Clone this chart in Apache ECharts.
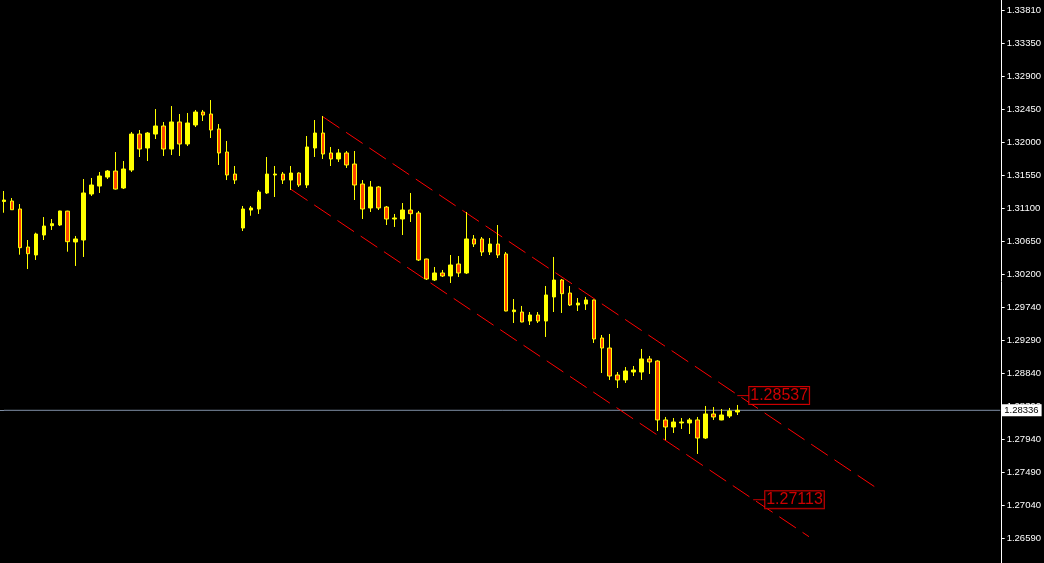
<!DOCTYPE html>
<html>
<head>
<meta charset="utf-8">
<style>
html,body{margin:0;padding:0;background:#000;}
#chart{width:1044px;height:563px;}
</style>
<script src="https://cdn.jsdelivr.net/npm/echarts@6/dist/echarts.min.js"></script>
</head>
<body>
<div id="chart"></div>
<script>
// ---- data ----
const opens = [1.31191,1.31198,1.31089,1.30569,1.30460,1.30733,1.30861,1.30870,1.31060,1.30638,
1.30665,1.31294,1.31403,1.31526,1.31608,1.31376,1.31622,1.32114,1.31923,1.32114,
1.32224,1.31909,1.32279,1.31978,1.32238,1.32415,1.32388,1.32183,1.31868,1.31567,
1.30829,1.31075,1.31089,1.31308,1.31554,1.31567,1.31485,1.31581,1.31417,1.31923,
1.32128,1.31855,1.31773,1.31855,1.31704,1.31431,1.31103,1.31390,1.31116,1.30952,
1.30952,1.31075,1.31034,1.30405,1.30118,1.30214,1.30173,1.30337,1.30214,1.30679,
1.30679,1.30501,1.30610,1.30474,1.29685,1.29680,1.29557,1.29639,1.29557,1.29886,
1.30118,1.29940,1.29776,1.29790,1.29845,1.29325,1.29188,1.28819,1.28751,1.28860,
1.28860,1.29038,1.29010,1.28204,1.28108,1.28163,1.28163,1.28204,1.27957,1.28286,
1.28204,1.28258,1.28313];
const closes = [1.31212,1.31079,1.30560,1.30478,1.30747,1.30856,1.30888,1.31062,1.30642,1.30679,
1.31308,1.31417,1.31540,1.31608,1.31362,1.31636,1.32114,1.31909,1.32128,1.32224,
1.31909,1.32279,1.31978,1.32265,1.32415,1.32374,1.32169,1.31855,1.31554,1.31485,
1.31089,1.31103,1.31321,1.31567,1.31567,1.31485,1.31581,1.31417,1.31937,1.32128,
1.31841,1.31773,1.31855,1.31691,1.31417,1.31089,1.31390,1.31103,1.30952,1.30966,
1.31075,1.31025,1.30392,1.30132,1.30214,1.30173,1.30323,1.30214,1.30679,1.30610,
1.30501,1.30610,1.30460,1.29694,1.29708,1.29544,1.29639,1.29557,1.29913,1.30118,
1.29931,1.29776,1.29803,1.29845,1.29311,1.29188,1.28805,1.28751,1.28874,1.28887,
1.29038,1.28997,1.28204,1.28108,1.28176,1.28176,1.28204,1.27957,1.28286,1.28245,
1.28272,1.28327,1.28336];
const lows = [1.31038,1.31076,1.30464,1.30268,1.30392,1.30665,1.30802,1.30856,1.30505,1.30310,
1.30433,1.31267,1.31308,1.31499,1.31355,1.31362,1.31595,1.31800,1.31745,1.32046,
1.31814,1.31827,1.31814,1.31950,1.32210,1.32292,1.32060,1.31691,1.31485,1.31431,
1.30788,1.30997,1.31021,1.31294,1.31253,1.31431,1.31349,1.31390,1.31376,1.31800,
1.31773,1.31677,1.31732,1.31650,1.31212,1.30952,1.31048,1.31075,1.30870,1.30843,
1.30733,1.30911,1.30378,1.30118,1.30104,1.30159,1.30077,1.30159,1.30200,1.30569,
1.30446,1.30460,1.30419,1.29690,1.29530,1.29540,1.29503,1.29530,1.29339,1.29680,
1.29667,1.29762,1.29694,1.29708,1.29257,1.28846,1.28751,1.28641,1.28710,1.28805,
1.28751,1.28833,1.28053,1.27930,1.28026,1.28081,1.28012,1.27739,1.27944,1.28204,
1.28200,1.28231,1.28272];
const highs = [1.31335,1.31239,1.31157,1.30665,1.30765,1.30979,1.30952,1.31065,1.31065,1.30720,
1.31499,1.31513,1.31595,1.31622,1.31868,1.31745,1.32142,1.32169,1.32142,1.32456,
1.32279,1.32497,1.32388,1.32402,1.32443,1.32443,1.32579,1.32251,1.32019,1.31677,
1.31130,1.31130,1.31349,1.31800,1.31677,1.31595,1.31677,1.31590,1.32087,1.32306,
1.32361,1.31937,1.31909,1.31882,1.31882,1.31485,1.31472,1.31403,1.31130,1.31021,
1.31171,1.31308,1.31062,1.30410,1.30296,1.30255,1.30460,1.30446,1.31048,1.30733,
1.30706,1.30692,1.30870,1.30501,1.29858,1.29763,1.29680,1.29680,1.30036,1.30433,
1.30132,1.30036,1.29872,1.29886,1.29850,1.29366,1.29380,1.28860,1.28928,1.28942,
1.29175,1.29079,1.29020,1.28245,1.28231,1.28231,1.28231,1.28245,1.28395,1.28381,
1.28354,1.28368,1.28409];

const slotCount = 126; // bars incl. empty future space
const categories = Array.from({length: slotCount}, (_, i) => String(i));

const tickLabels = ['1.33810','1.33350','1.32900','1.32450','1.32000','1.31550','1.31100','1.30650',
'1.30200','1.29740','1.29290','1.28840','1.28390','1.27940','1.27490','1.27040','1.26590'];
const tickValues = tickLabels.map(Number);

const currentPrice = 1.28336;
const currentPriceSpan = [0, 125];
const upperChannel = [[40, 1.32351], [110, 1.27235]];
const lowerChannel = [[36, 1.31358], [101, 1.26608]];
const channelTags = [[92, 1.28537], [94, 1.27113]];

const yMin = 1.26248, yMax = 1.33947;

// ---- chart ----
const candleData = opens.map((o, i) => [o, closes[i], lows[i], highs[i]]);
const chart = echarts.init(document.getElementById('chart'), null, {renderer: 'canvas'});
const FONT = '"Liberation Sans", Arial, sans-serif';

chart.setOption({
  backgroundColor: '#000000',
  animation: false,
  grid: {left: -2.7, width: 8 * slotCount, top: 0, bottom: 0},
  xAxis: {
    type: 'category', data: categories, boundaryGap: true,
    axisLine: {show: false}, axisTick: {show: false}, axisLabel: {show: false}, splitLine: {show: false}
  },
  yAxis: {
    type: 'value', position: 'right', min: yMin, max: yMax, offset: -2.6,
    axisLine: {show: true, lineStyle: {color: '#ffffff', width: 1}},
    axisTick: {show: true, inside: false, length: 3, customValues: tickValues, lineStyle: {color: '#ffffff'}},
    axisLabel: {show: true, customValues: tickValues, margin: 5, color: '#ffffff', fontSize: 9.5, fontFamily: FONT,
      formatter: v => v.toFixed(5)},
    splitLine: {show: false}
  },
  series: [
    {
      type: 'line',
      data: currentPriceSpan.map(i => [i, currentPrice]),
      symbol: 'none', silent: true,
      lineStyle: {color: '#7f8fa6', width: 1},
      endLabel: {show: true, distance: 1, color: '#000', backgroundColor: '#ffffff', padding: [1, 3, 1, 3],
        fontSize: 9.5, fontFamily: FONT, formatter: p => p.value[1].toFixed(5)},
      markLine: {
        silent: true, symbol: 'none', label: {show: false},
        lineStyle: {color: '#7f8fa6', width: 1, type: 'solid'},
        data: [[{coord: [0, currentPrice], x: 0}, {coord: [0, currentPrice]}]]
      },
      z: 1
    },
    {
      type: 'candlestick',
      data: candleData,
      barWidth: 4,
      itemStyle: {color: '#ffff00', color0: '#ff4500', borderColor: '#ffff00', borderColor0: '#ffff00', borderWidth: 1},
      z: 3
    },
    {
      type: 'line', data: upperChannel, symbol: 'none', silent: true,
      lineStyle: {color: '#ff0000', width: 1, type: [20, 8]}, z: 2
    },
    {
      type: 'line', data: lowerChannel, symbol: 'none', silent: true,
      lineStyle: {color: '#ff0000', width: 1, type: [20, 8]}, z: 2
    },
    {
      type: 'scatter', data: channelTags, silent: true,
      symbol: 'rect', symbolSize: [12, 1], symbolOffset: [6, 0],
      itemStyle: {color: '#ff0000'},
      label: {show: true, position: 'right', distance: 0, color: '#ff0000', fontSize: 16, fontFamily: FONT,
        backgroundColor: '#000000', borderColor: '#ff0000', borderWidth: 1, padding: [1, 1, 0, 1],
        formatter: p => p.value[1].toFixed(5)},
      z: 4
    }
  ]
});
</script>
</body>
</html>
